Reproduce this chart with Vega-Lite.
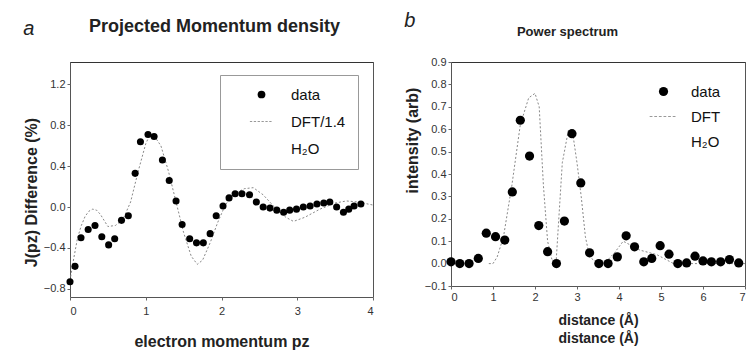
{
  "$schema": "https://vega.github.io/schema/vega-lite/v6.json",
  "background": "white",
  "padding": {"left": 22, "right": 0, "top": 10, "bottom": 0},
  "spacing": 29,
  "datasets": {
    "dotsA": [
      {"p": 0.0, "v": -0.73, "s": "data"}, {"p": 0.066, "v": -0.58, "s": "data"}, {"p": 0.145, "v": -0.30, "s": "data"},
      {"p": 0.24, "v": -0.22, "s": "data"}, {"p": 0.33, "v": -0.18, "s": "data"}, {"p": 0.42, "v": -0.29, "s": "data"},
      {"p": 0.51, "v": -0.37, "s": "data"}, {"p": 0.59, "v": -0.31, "s": "data"}, {"p": 0.68, "v": -0.13, "s": "data"},
      {"p": 0.77, "v": -0.085, "s": "data"}, {"p": 0.86, "v": 0.33, "s": "data"}, {"p": 0.93, "v": 0.64, "s": "data"},
      {"p": 1.03, "v": 0.71, "s": "data"}, {"p": 1.11, "v": 0.69, "s": "data"}, {"p": 1.22, "v": 0.46, "s": "data"},
      {"p": 1.31, "v": 0.26, "s": "data"}, {"p": 1.40, "v": 0.06, "s": "data"}, {"p": 1.48, "v": -0.17, "s": "data"},
      {"p": 1.58, "v": -0.31, "s": "data"}, {"p": 1.67, "v": -0.35, "s": "data"}, {"p": 1.76, "v": -0.35, "s": "data"},
      {"p": 1.85, "v": -0.26, "s": "data"}, {"p": 1.93, "v": -0.085, "s": "data"}, {"p": 2.02, "v": 0.01, "s": "data"},
      {"p": 2.10, "v": 0.09, "s": "data"}, {"p": 2.18, "v": 0.13, "s": "data"}, {"p": 2.27, "v": 0.13, "s": "data"},
      {"p": 2.37, "v": 0.12, "s": "data"}, {"p": 2.46, "v": 0.05, "s": "data"}, {"p": 2.55, "v": 0.0, "s": "data"},
      {"p": 2.64, "v": -0.01, "s": "data"}, {"p": 2.73, "v": -0.03, "s": "data"}, {"p": 2.82, "v": -0.05, "s": "data"},
      {"p": 2.90, "v": -0.03, "s": "data"}, {"p": 2.99, "v": -0.02, "s": "data"}, {"p": 3.08, "v": 0.0, "s": "data"},
      {"p": 3.17, "v": 0.01, "s": "data"}, {"p": 3.26, "v": 0.03, "s": "data"}, {"p": 3.35, "v": 0.04, "s": "data"},
      {"p": 3.43, "v": 0.05, "s": "data"}, {"p": 3.52, "v": 0.0, "s": "data"}, {"p": 3.61, "v": -0.05, "s": "data"},
      {"p": 3.68, "v": -0.02, "s": "data"}, {"p": 3.75, "v": 0.01, "s": "data"}, {"p": 3.84, "v": 0.03, "s": "data"}
    ],
    "dftA": [
      {"p": 0.0, "v": -0.72}, {"p": 0.05, "v": -0.5}, {"p": 0.1, "v": -0.3}, {"p": 0.15, "v": -0.18},
      {"p": 0.2, "v": -0.09}, {"p": 0.25, "v": -0.04}, {"p": 0.3, "v": -0.02}, {"p": 0.35, "v": -0.03},
      {"p": 0.4, "v": -0.07}, {"p": 0.45, "v": -0.13}, {"p": 0.5, "v": -0.19}, {"p": 0.6, "v": -0.18},
      {"p": 0.7, "v": -0.12}, {"p": 0.8, "v": 0.05}, {"p": 0.9, "v": 0.35}, {"p": 1.0, "v": 0.62},
      {"p": 1.05, "v": 0.70}, {"p": 1.1, "v": 0.71}, {"p": 1.2, "v": 0.6}, {"p": 1.3, "v": 0.35},
      {"p": 1.4, "v": 0.05}, {"p": 1.5, "v": -0.25}, {"p": 1.6, "v": -0.48}, {"p": 1.68, "v": -0.56},
      {"p": 1.75, "v": -0.52}, {"p": 1.85, "v": -0.35}, {"p": 1.95, "v": -0.15}, {"p": 2.05, "v": 0.02},
      {"p": 2.15, "v": 0.12}, {"p": 2.3, "v": 0.18}, {"p": 2.42, "v": 0.19}, {"p": 2.55, "v": 0.12},
      {"p": 2.7, "v": 0.0}, {"p": 2.85, "v": -0.1}, {"p": 2.95, "v": -0.14}, {"p": 3.1, "v": -0.1},
      {"p": 3.3, "v": -0.02}, {"p": 3.5, "v": 0.04}, {"p": 3.65, "v": 0.06}, {"p": 3.8, "v": 0.05}, {"p": 4.0, "v": 0.02}
    ],
    "dotsB": [
      {"d": 0.0, "i": 0.008, "s": "data"}, {"d": 0.21, "i": 0.0, "s": "data"}, {"d": 0.43, "i": 0.0, "s": "data"},
      {"d": 0.65, "i": 0.023, "s": "data"}, {"d": 0.84, "i": 0.136, "s": "data"}, {"d": 1.06, "i": 0.12, "s": "data"},
      {"d": 1.28, "i": 0.105, "s": "data"}, {"d": 1.46, "i": 0.32, "s": "data"}, {"d": 1.65, "i": 0.64, "s": "data"},
      {"d": 1.87, "i": 0.48, "s": "data"}, {"d": 2.09, "i": 0.17, "s": "data"}, {"d": 2.30, "i": 0.053, "s": "data"},
      {"d": 2.51, "i": 0.0, "s": "data"}, {"d": 2.70, "i": 0.19, "s": "data"}, {"d": 2.88, "i": 0.58, "s": "data"},
      {"d": 3.09, "i": 0.36, "s": "data"}, {"d": 3.30, "i": 0.048, "s": "data"}, {"d": 3.52, "i": 0.0, "s": "data"},
      {"d": 3.74, "i": 0.0, "s": "data"}, {"d": 3.96, "i": 0.03, "s": "data"}, {"d": 4.17, "i": 0.124, "s": "data"},
      {"d": 4.37, "i": 0.075, "s": "data"}, {"d": 4.59, "i": 0.008, "s": "data"}, {"d": 4.78, "i": 0.023, "s": "data"},
      {"d": 4.98, "i": 0.08, "s": "data"}, {"d": 5.19, "i": 0.042, "s": "data"}, {"d": 5.40, "i": 0.0, "s": "data"},
      {"d": 5.61, "i": 0.003, "s": "data"}, {"d": 5.81, "i": 0.033, "s": "data"}, {"d": 6.00, "i": 0.012, "s": "data"},
      {"d": 6.20, "i": 0.008, "s": "data"}, {"d": 6.42, "i": 0.008, "s": "data"}, {"d": 6.63, "i": 0.018, "s": "data"},
      {"d": 6.85, "i": 0.003, "s": "data"}
    ],
    "dftB": [
      {"d": 0.9, "i": 0.0}, {"d": 1.0, "i": 0.0}, {"d": 1.1, "i": 0.03}, {"d": 1.25, "i": 0.12},
      {"d": 1.45, "i": 0.35}, {"d": 1.65, "i": 0.62}, {"d": 1.85, "i": 0.74}, {"d": 2.0, "i": 0.76},
      {"d": 2.1, "i": 0.7}, {"d": 2.2, "i": 0.35}, {"d": 2.3, "i": 0.1}, {"d": 2.4, "i": 0.02},
      {"d": 2.5, "i": 0.0}, {"d": 2.55, "i": 0.15}, {"d": 2.65, "i": 0.45}, {"d": 2.8, "i": 0.6},
      {"d": 2.9, "i": 0.58}, {"d": 3.0, "i": 0.45}, {"d": 3.1, "i": 0.3}, {"d": 3.2, "i": 0.12},
      {"d": 3.3, "i": 0.03}, {"d": 3.5, "i": 0.0}, {"d": 3.7, "i": 0.01}, {"d": 3.9, "i": 0.05},
      {"d": 4.1, "i": 0.1}, {"d": 4.3, "i": 0.08}, {"d": 4.5, "i": 0.06}, {"d": 4.7, "i": 0.05},
      {"d": 4.9, "i": 0.04}, {"d": 5.1, "i": 0.02}, {"d": 5.3, "i": 0.0}, {"d": 6.0, "i": 0.0}, {"d": 7.0, "i": 0.0}
    ]
  },
  "hconcat": [
    {
      "width": 303,
      "height": 235,
      "title": {"text": "a", "anchor": "start", "frame": "bounds", "fontStyle": "italic", "fontWeight": "normal", "fontSize": 20, "font": "Liberation Sans", "offset": -22},
      "resolve": {"axis": {"x": "independent"}},
      "layer": [
        {
          "data": {"name": "dftA"},
          "mark": {"type": "line", "color": "#888", "strokeWidth": 1, "strokeDash": [2, 2], "clip": true},
          "encoding": {
            "x": {"field": "p", "type": "quantitative", "scale": {"domain": [0, 4], "nice": false},
                  "axis": {"orient": "top", "title": "Projected Momentum density", "labels": false, "ticks": false, "domain": true, "domainColor": "#333", "titlePadding": 27, "titleFontSize": 18, "titleX": 144}},
            "y": {"field": "v", "type": "quantitative", "scale": {"domain": [-0.88, 1.42], "nice": false},
                  "axis": {"values": [-0.8, -0.4, 0, 0.4, 0.8, 1.2], "format": ".1f", "title": "J(pz) Difference (%)", "titleFontSize": 16, "titleY": 130}}
          }
        },
        {
          "data": {"name": "dotsA"},
          "mark": {"type": "point", "filled": true, "size": 50, "opacity": 1},
          "encoding": {
            "x": {"field": "p", "type": "quantitative", "scale": {"domain": [0, 4], "nice": false},
                  "axis": {"orient": "bottom", "values": [0, 1, 2, 3, 4], "title": "electron momentum pz", "titleFontSize": 16, "labelPadding": 5, "titlePadding": 17}},
            "y": {"field": "v", "type": "quantitative", "scale": {"domain": [-0.88, 1.42], "nice": false},
                  "axis": {"values": [-0.8, -0.4, 0, 0.4, 0.8, 1.2], "format": ".1f", "title": "J(pz) Difference (%)", "titleFontSize": 16, "titleY": 130}},
            "fill": {"field": "s", "type": "nominal", "scale": {"domain": ["data", "DFT/1.4", "H₂O"], "range": ["black", "#999", "white"]},
                     "legend": {"orient": "none", "legendX": 150, "legendY": 13, "title": null, "padding": 12, "strokeColor": "#999", "fillColor": "white", "labelFontSize": 15, "labelFont": "Liberation Sans", "labelColor": "#111", "symbolOffset": 22, "labelOffset": 22, "rowPadding": 11, "symbolSize": 60,
                                "encode": {"legend": {"update": {"strokeDash": {"value": [2, 2]}}}}}},
            "shape": {"field": "s", "type": "nominal", "scale": {"domain": ["data", "DFT/1.4", "H₂O"], "range": ["circle", "M-3,-0.15H-2.4V0.15H-3Z M-2,-0.15H-1.4V0.15H-2Z M-1,-0.15H-0.4V0.15H-1Z M0,-0.15H0.6V0.15H0Z M1,-0.15H1.6V0.15H1Z M2,-0.15H2.6V0.15H2Z", "M0,0"]}, "legend": {"orient": "none", "legendX": 150, "legendY": 13, "title": null}}
          }
        }
      ]
    },
    {
      "width": 294,
      "height": 224,
      "title": {"text": "b", "anchor": "start", "frame": "bounds", "fontStyle": "italic", "fontWeight": "normal", "fontSize": 20, "font": "Liberation Sans", "offset": -6},
      "resolve": {"axis": {"x": "independent"}},
      "layer": [
        {
          "data": {"name": "dftB"},
          "mark": {"type": "line", "color": "#888", "strokeWidth": 1, "strokeDash": [2, 2], "clip": true},
          "encoding": {
            "x": {"field": "d", "type": "quantitative", "scale": {"domain": [0, 7], "nice": false},
                  "axis": {"orient": "top", "title": "Power spectrum", "labels": false, "ticks": false, "domain": true, "domainColor": "#333", "titlePadding": 24, "titleFontSize": 13, "titleX": 116}},
            "y": {"field": "i", "type": "quantitative", "scale": {"domain": [-0.1, 0.9], "nice": false},
                  "axis": {"values": [-0.1, 0, 0.1, 0.2, 0.3, 0.4, 0.5, 0.6, 0.7, 0.8, 0.9], "format": ".1f", "title": "intensity (arb)", "titleFontSize": 16, "titleY": 78}}
          }
        },
        {
          "data": {"name": "dotsB"},
          "mark": {"type": "point", "filled": true, "size": 85, "opacity": 1},
          "encoding": {
            "x": {"field": "d", "type": "quantitative", "scale": {"domain": [0, 7], "nice": false},
                  "axis": {"orient": "bottom", "values": [0, 1, 2, 3, 4, 5, 6, 7], "title": ["distance (Å)", "distance (Å)"], "titleFontSize": 14, "titleLineHeight": 18, "titlePadding": 11}},
            "y": {"field": "i", "type": "quantitative", "scale": {"domain": [-0.1, 0.9], "nice": false},
                  "axis": {"values": [-0.1, 0, 0.1, 0.2, 0.3, 0.4, 0.5, 0.6, 0.7, 0.8, 0.9], "format": ".1f", "title": "intensity (arb)", "titleFontSize": 16, "titleY": 78}},
            "fill": {"field": "s", "type": "nominal", "scale": {"domain": ["data", "DFT", "H₂O"], "range": ["black", "#999", "white"]},
                     "legend": {"orient": "none", "legendX": 185, "legendY": 16, "title": null, "padding": 6, "labelFontSize": 15, "labelFont": "Liberation Sans", "labelColor": "#111", "symbolOffset": 14, "labelOffset": 20, "rowPadding": 9, "symbolSize": 85}},
            "shape": {"field": "s", "type": "nominal", "scale": {"domain": ["data", "DFT", "H₂O"], "range": ["circle", "M-3,-0.12H-2.4V0.12H-3Z M-2,-0.12H-1.4V0.12H-2Z M-1,-0.12H-0.4V0.12H-1Z M0,-0.12H0.6V0.12H0Z M1,-0.12H1.6V0.12H1Z M2,-0.12H2.6V0.12H2Z", "M0,0"]}, "legend": {"orient": "none", "legendX": 185, "legendY": 16, "title": null}}
          }
        }
      ]
    }
  ],
  "resolve": {"scale": {"fill": "independent", "shape": "independent"}, "legend": {"fill": "independent", "shape": "independent"}},
  "config": {
    "font": "Liberation Sans",
    "view": {"stroke": "#555", "strokeWidth": 1},
    "title": {"color": "#222"},
    "axis": {"grid": false, "domain": false, "labelFont": "Liberation Sans", "labelFontSize": 11, "labelColor": "#333", "tickColor": "#666", "tickSize": 3, "titleFont": "Liberation Sans", "titleFontWeight": "bold", "titleFontSize": 15, "titleColor": "#222"}
  }
}
